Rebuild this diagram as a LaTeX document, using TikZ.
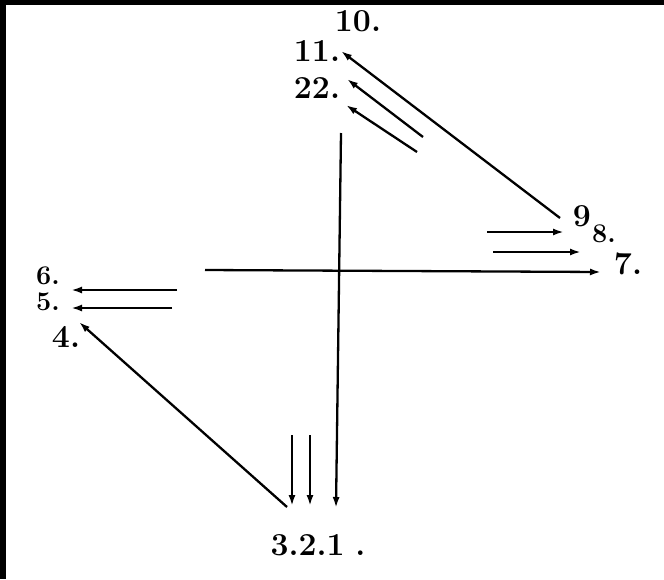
\documentclass[tikz,border=0pt]{standalone}
\usepackage{fontspec}
\setmainfont{Latin Modern Roman}
\usetikzlibrary{arrows.meta,positioning,calc}
\tikzset{
  ray/.style={-{Latex[length=11pt,width=7pt]},line width=2.3pt},
  num/.style={font=\fontsize{32}{34}\selectfont\bfseries,inner sep=0pt},
  smallnum/.style={font=\fontsize{27}{29}\selectfont\bfseries,inner sep=0pt},
}
\begin{document}
\begin{tikzpicture}[x=1pt,y=-1pt]
    \useasboundingbox (0,0) rectangle (664,579);
    \fill[black] (0,0) rectangle (664,5);
    \fill[black] (0,0) rectangle (6,579);
    % cross
    \coordinate (vtop) at (341,133);
    \coordinate (vbot) at (336,508);
    \coordinate (hleft) at (205,270);
    \coordinate (hright) at (601,272);
    \draw[ray] (vtop) -- (vbot);
    \draw[ray] (hleft) -- (hright);
    % bottom
    \coordinate (b3) at (292,435);
    \coordinate (b3t) at (292,506);
    \coordinate (b2) at (310,435);
    \coordinate (b2t) at (310,506);
    \draw[ray] (b3) -- (b3t);
    \draw[ray] (b2) -- (b2t);
    \coordinate (dstart) at (287,507);
    \coordinate (dend) at (79,322);
    \draw[ray] (dstart) -- (dend);
    % left
    \coordinate (l6) at (177,290);
    \coordinate (l6t) at (71,290);
    \coordinate (l5) at (172,308);
    \coordinate (l5t) at (71,308);
    \draw[ray] (l6) -- (l6t);
    \draw[ray] (l5) -- (l5t);
    % right
    \coordinate (r9) at (487,232);
    \coordinate (r9t) at (564,232);
    \coordinate (r8) at (493,252);
    \coordinate (r8t) at (581,252);
    \draw[ray] (r9) -- (r9t);
    \draw[ray] (r8) -- (r8t);
    % top
    \coordinate (t10) at (560,218);
    \coordinate (t10t) at (341,51);
    \coordinate (t11) at (423,137);
    \coordinate (t11t) at (347,79);
    \coordinate (t22) at (417,152);
    \coordinate (t22t) at (346,105);
    \draw[ray] (t10) -- (t10t);
    \draw[ray] (t11) -- (t11t);
    \draw[ray] (t22) -- (t22t);
    % labels
    \node[num] (n10) at (358,21) {10.};
    \node[num] (n11) at (317,51) {11.};
    \node[num] (n22) at (317,88) {22.};
    \node[num] (n9) at (582,216) {9};
    \node[smallnum] (n8) at (604,234) {8.};
    \node[num] (n7) at (628,264) {7.};
    \node[smallnum] (n6) at (48,276) {6.};
    \node[smallnum] (n5) at (48,302) {5.};
    \node[num] (n4) at (66,337) {4.};
    \node[num] (n321) at (318,545) {3.2.1\,\,.};
\end{tikzpicture}
\end{document}
